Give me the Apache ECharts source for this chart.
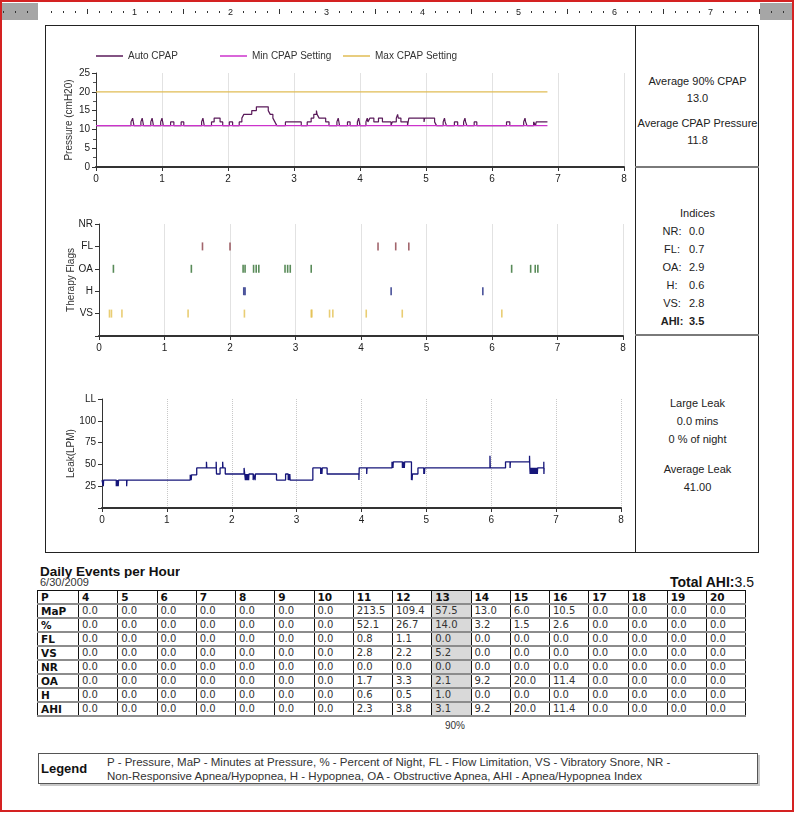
<!DOCTYPE html>
<html><head><meta charset="utf-8">
<script src="https://cdn.jsdelivr.net/npm/echarts@6/dist/echarts.min.js"></script>
<style>
html,body{margin:0;padding:0;background:#fff;}
body{width:795px;height:814px;position:relative;overflow:hidden;font-family:"Liberation Sans",Arial,sans-serif;color:#222;}
.abs{position:absolute;}
#frame{left:0;top:0;width:794px;height:812px;box-sizing:border-box;border:2px solid #d42222;}
#ruler{left:2px;top:3px;width:790px;height:17px;background:#fff;}
.rblk{top:3px;height:17px;background:#a6a6a6;}
.rt{background:#333;width:1px;}
.rn{font-size:9px;color:#222;width:10px;text-align:center;top:7px;}
#box{left:45px;top:25px;width:714px;height:528px;box-sizing:border-box;border:1px solid #222;}
#vdiv{left:635px;top:25px;width:1px;height:528px;background:#222;}
.hdiv{left:635px;width:124px;height:2px;background:#7a7a7a;}
.pt{font-size:11px;color:#222;width:123px;left:636px;text-align:center;line-height:13px;}
.il{font-size:11px;color:#222;line-height:13px;}
#chart{left:0;top:0;width:795px;height:560px;}
#title{left:40px;top:564px;height:14px;overflow:hidden;font-weight:bold;font-size:13.5px;line-height:16px;color:#111;}
#date{left:40px;top:576px;font-size:11px;color:#333;line-height:13px;}
#total{right:41px;top:574px;font-size:14px;line-height:16px;color:#111;}
table{position:absolute;left:37px;top:590px;border-collapse:collapse;table-layout:fixed;border:1px solid #111;}
td{height:12px;line-height:12px;padding:0 0 0 3px;border-left:1px solid #111;border-right:1px solid #111;border-bottom:2px solid #8c8c8c;font-family:"DejaVu Sans",Verdana,sans-serif;font-size:10px;color:#333;white-space:nowrap;overflow:hidden;}
td.h{font-weight:bold;color:#111;font-size:10.5px;}
td.g{background:#d9d9d9;}
#p90{left:435px;width:40px;text-align:center;top:720px;font-size:10px;color:#333;}
#legbox{left:38px;top:753px;width:720px;height:31px;box-sizing:border-box;border:1px solid #555;box-shadow:2px 2px 0 #c8c8c8;}
#legt{left:41px;top:761px;font-weight:bold;font-size:13px;color:#111;}
#legx{left:107px;top:755px;font-size:11.5px;line-height:14px;color:#333;white-space:nowrap;}
</style></head>
<body>
<div id="frame" class="abs"></div>
<div id="ruler" class="abs"></div>
<div id="box" class="abs"></div>
<div id="vdiv" class="abs"></div>
<div class="abs hdiv" style="top:166px"></div>
<div class="abs hdiv" style="top:334px"></div>
<div id="panel"></div>
<div id="chart" class="abs"></div>
<div id="title" class="abs">Daily Events per Hour</div>
<div id="date" class="abs">6/30/2009</div>
<div id="total" class="abs"><b>Total AHI:</b>3.5</div>
<table id="tbl"></table>
<div id="p90" class="abs">90%</div>
<div id="legbox" class="abs"></div>
<div id="legt" class="abs">Legend</div>
<div id="legx" class="abs">P - Pressure, MaP - Minutes at Pressure, % - Percent of Night, FL - Flow Limitation, VS - Vibratory Snore, NR -<br>Non-Responsive Apnea/Hypopnea, H - Hypopnea, OA - Obstructive Apnea, AHI - Apnea/Hypopnea Index</div>
<script>
// ---------- DATA ----------
const hourTicks = [0,1,2,3,4,5,6,7,8];
const autoCpap = [[0,11],
 [0.53,12],[0.555,13],[0.565,12],[0.575,11],
 [0.68,12],[0.70,13],[0.71,12],[0.72,11],
 [0.83,12],[0.85,13],[0.86,12],[0.87,11],
 [0.98,12],[1.00,13],[1.01,12],[1.02,11],
 [1.13,12],[1.18,11],
 [1.29,12],[1.33,11],
 [1.60,12],[1.62,13],[1.63,12],[1.64,11],
 [1.75,12],[1.79,13],[1.88,12],[1.92,11],
 [2.02,12],[2.07,11],
 [2.17,12],[2.21,13],[2.24,14],[2.36,15],[2.43,16],[2.61,15],[2.64,14],[2.68,13],[2.71,12],[2.74,11],
 [2.87,12],[3.11,11],
 [3.20,12],[3.26,13],[3.30,14],[3.34,15],[3.35,14],[3.38,13],[3.48,12],[3.53,11],
 [3.65,12],[3.67,13],[3.68,12],[3.69,11],
 [3.81,12],[3.85,11],
 [3.96,12],[3.98,13],[3.99,12],[4.00,11],
 [4.09,12],[4.11,13],[4.12,12],[4.15,13],[4.21,12],[4.28,13],[4.34,12],[4.47,11],[4.49,12],[4.55,13],[4.57,14],[4.58,13],[4.62,12],[4.72,11],[4.74,13],[4.97,12],[4.98,13],[5.13,12],[5.16,11],
 [5.26,12],[5.28,13],[5.29,12],[5.31,11],
 [5.43,12],[5.48,11],
 [5.57,12],[5.59,13],[5.60,12],[5.62,11],
 [5.73,12],[5.77,11],
 [6.22,12],[6.27,11],
 [6.48,12],[6.50,13],[6.51,12],[6.53,11],
 [6.63,12],[6.66,11],[6.67,12],[6.84,12]];
const minCpap = [[0,11],[6.84,11]];
const maxCpap = [[0,20],[6.84,20]];

const flagRows = ['', 'VS', 'H', 'OA', 'FL', 'NR'];
const flFlags = [1.58, 2.00, 4.26, 4.53, 4.73];
const oaFlags = [0.22, 1.41, 2.20, 2.23, 2.36, 2.40, 2.44, 2.84, 2.88, 2.92, 3.24, 6.30, 6.59, 6.66, 6.70];
const hFlags  = [2.21, 2.23, 4.46, 5.86];
const vsFlags = [0.16, 0.19, 0.35, 1.36, 2.22, 3.24, 3.25, 3.52, 3.57, 4.08, 4.63, 6.15];
const nrFlags = [];

const leakTicks = ['', '25', '50', '75', '100', 'LL'];
const leak = [[0,32],[0.02,25],[0.025,32],
 [0.22,25],[0.225,32],[0.23,25],[0.235,32],[0.24,25],[0.245,32],[0.25,25],[0.255,32],
 [0.38,25],[0.385,32],
 [1.36,38],[1.365,32],[1.37,38],[1.375,32],[1.38,38],[1.46,46],
 [1.61,53],[1.615,46],
 [1.76,53],[1.765,39],[1.82,46],[1.86,53],[1.865,46],[1.90,39],
 [2.19,46],[2.20,39],[2.21,32],[2.215,39],[2.22,32],[2.225,39],[2.23,32],[2.235,39],[2.24,32],[2.245,39],[2.25,32],[2.255,39],[2.26,32],[2.265,39],[2.33,32],[2.335,39],[2.36,32],[2.365,39],
 [2.69,32],[2.83,39],[2.87,32],[2.875,39],[2.88,32],[2.885,39],[2.89,32],[2.895,39],[2.90,32],
 [3.25,46],[3.37,39],[3.375,46],[3.38,39],[3.385,46],[3.39,39],[3.395,46],[3.47,39],
 [3.96,32],[3.965,46],[4.08,39],[4.085,46],
 [4.47,53],[4.475,46],[4.48,53],[4.485,46],[4.49,53],
 [4.63,46],[4.635,53],[4.64,46],[4.645,53],[4.65,46],[4.655,53],[4.66,46],[4.665,53],
 [4.77,32],[4.775,39],[4.78,32],[4.785,39],[4.87,46],
 [4.96,39],[4.965,46],[4.97,39],[4.975,46],
 [5.98,60],[5.985,46],
 [6.22,53],[6.29,46],[6.295,53],
 [6.59,60],[6.595,46],[6.60,39],[6.605,46],[6.61,39],[6.615,46],[6.62,39],[6.625,46],[6.63,39],[6.635,46],[6.64,39],[6.645,46],[6.65,39],[6.655,46],[6.66,39],[6.665,46],[6.67,39],[6.675,46],[6.68,39],[6.685,46],[6.69,39],[6.695,46],[6.70,39],[6.705,46],[6.71,39],[6.715,46],
 [6.81,53],[6.812,39],[6.815,46],[6.82,46]];

const panelTop = [['Average 90% CPAP',75],['13.0',92],['Average CPAP Pressure',117],['11.8',134]];
const indexRows = [['NR:','0.0'],['FL:','0.7'],['OA:','2.9'],['H:','0.6'],['VS:','2.8'],['AHI:','3.5']];
const panelBottom = [['Large Leak',397],['0.0 mins',415],['0 % of night',433],['Average Leak',463],['41.00',481]];

const pressureCols = ['4','5','6','7','8','9','10','11','12','13','14','15','16','17','18','19','20'];
const tableRows = [
 ['MaP', ['0.0','0.0','0.0','0.0','0.0','0.0','0.0','213.5','109.4','57.5','13.0','6.0','10.5','0.0','0.0','0.0','0.0']],
 ['%',   ['0.0','0.0','0.0','0.0','0.0','0.0','0.0','52.1','26.7','14.0','3.2','1.5','2.6','0.0','0.0','0.0','0.0']],
 ['FL',  ['0.0','0.0','0.0','0.0','0.0','0.0','0.0','0.8','1.1','0.0','0.0','0.0','0.0','0.0','0.0','0.0','0.0']],
 ['VS',  ['0.0','0.0','0.0','0.0','0.0','0.0','0.0','2.8','2.2','5.2','0.0','0.0','0.0','0.0','0.0','0.0','0.0']],
 ['NR',  ['0.0','0.0','0.0','0.0','0.0','0.0','0.0','0.0','0.0','0.0','0.0','0.0','0.0','0.0','0.0','0.0','0.0']],
 ['OA',  ['0.0','0.0','0.0','0.0','0.0','0.0','0.0','1.7','3.3','2.1','9.2','20.0','11.4','0.0','0.0','0.0','0.0']],
 ['H',   ['0.0','0.0','0.0','0.0','0.0','0.0','0.0','0.6','0.5','1.0','0.0','0.0','0.0','0.0','0.0','0.0','0.0']],
 ['AHI', ['0.0','0.0','0.0','0.0','0.0','0.0','0.0','2.3','3.8','3.1','9.2','20.0','11.4','0.0','0.0','0.0','0.0']]
];
const highlightCol = '13';

// ---------- RULER ----------
(function(){
  const b = document.body;
  function add(cls, st, txt){const d=document.createElement('div');d.className='abs '+cls;d.setAttribute('style',st);if(txt)d.textContent=txt;b.appendChild(d);}
  add('rblk','left:2px;width:36px;');
  add('rblk','left:760px;width:32px;');
  for(let k=-3;k<=66;k++){
    const x = 38.5 + 12*k;
    if(x<2||x>791) continue;
    if(k%8===0 && k>0 && k<64){ add('rn','left:'+(x-5)+'px;', String(k/8)); }
    else if(k%8===0){ }
    else if(k%4===0){ add('rt','left:'+Math.round(x)+'px;top:9px;height:5px;'); }
    else { add('rt','left:'+Math.round(x)+'px;top:11px;height:2px;'); }
  }
})();

// ---------- PANEL ----------
(function(){
  const p = document.getElementById('panel');
  let h='';
  panelTop.forEach(r=>{h+='<div class="abs pt" style="top:'+r[1]+'px">'+r[0]+'</div>';});
  h+='<div class="abs pt" style="top:207px">Indices</div>';
  indexRows.forEach((r,i)=>{
    const y=225+18*i; const bold = r[0]==='AHI:'?'font-weight:bold;':'';
    h+='<div class="abs il" style="left:652px;width:40px;text-align:center;top:'+y+'px;'+bold+'">'+r[0]+'</div>';
    h+='<div class="abs il" style="left:689px;top:'+y+'px;'+bold+'">'+r[1]+'</div>';
  });
  panelBottom.forEach(r=>{h+='<div class="abs pt" style="top:'+r[1]+'px">'+r[0]+'</div>';});
  p.innerHTML=h;
})();

// ---------- TABLE ----------
(function(){
  const t=document.getElementById('tbl');
  let h='<colgroup><col style="width:41px">';
  pressureCols.forEach(()=>{h+='<col style="width:39.25px">';});
  h+='</colgroup><tr><td class="h">P</td>';
  pressureCols.forEach(c=>{h+='<td class="h'+(c===highlightCol?' g':'')+'">'+c+'</td>';});
  h+='</tr>';
  tableRows.forEach(r=>{
    h+='<tr><td class="h">'+r[0]+'</td>';
    r[1].forEach((v,i)=>{h+='<td'+(pressureCols[i]===highlightCol?' class="g"':'')+'>'+v+'</td>';});
    h+='</tr>';
  });
  t.innerHTML=h;
})();

// ---------- CHART ----------
const chart = echarts.init(document.getElementById('chart'), null, {renderer:'canvas'});
const FONT = 'Liberation Sans';
function xAx(grid, dotted){
  return {type:'value', gridIndex:grid, min:0, max:8, interval:1,
    axisLine:{show:true, onZero:false, lineStyle:{color:'#333', width:2}},
    axisTick:{show:true, length:4, lineStyle:{color:'#333'}},
    axisLabel:{color:'#222', fontSize:10, fontFamily:FONT, margin:7},
    splitLine:{show:true, lineStyle:{color: dotted?'#c8c8c8':'#e2e2e2', type: dotted?'dotted':'solid'}}};
}
function flagSeries(name, arr, row, color){
  return {name:name, type:'scatter', xAxisIndex:1, yAxisIndex:1, symbol:'rect', symbolSize:[1.6,8],
    itemStyle:{color:color}, data: arr.map(t=>[t,row]), silent:true};
}
const legCommon = {top:51, itemWidth:27, itemHeight:1.5, icon:'rect', textStyle:{fontSize:10, fontFamily:FONT, color:'#333'}, padding:0};
const nameStyle = {fontSize:10, fontFamily:FONT, color:'#333'};
chart.setOption({
  animation:false,
  legend:[
    Object.assign({left:96, data:['Auto CPAP']}, legCommon),
    Object.assign({left:220, data:['Min CPAP Setting']}, legCommon),
    Object.assign({left:343, data:['Max CPAP Setting']}, legCommon)
  ],
  grid:[
    {left:96, top:73, width:528, height:94},
    {left:99, top:224, width:524, height:112},
    {left:102, top:399, width:519, height:109}
  ],
  xAxis:[xAx(0,false), xAx(1,false), xAx(2,true)],
  yAxis:[
    {type:'value', gridIndex:0, min:0, max:25, interval:5,
     name:'Pressure (cmH20)', nameLocation:'middle', nameGap:22, nameMoveOverlap:false, nameTextStyle:nameStyle,
     axisLine:{show:true, lineStyle:{color:'#333'}}, axisTick:{show:true, length:4, lineStyle:{color:'#333'}},
     minorTick:{show:true, splitNumber:2, length:3, lineStyle:{color:'#555'}},
     axisLabel:{color:'#222', fontSize:10, fontFamily:FONT, margin:6}, splitLine:{show:false}},
    {type:'value', gridIndex:1, min:0, max:5, interval:1,
     name:'Therapy Flags', nameLocation:'middle', nameGap:23, nameMoveOverlap:false, nameTextStyle:nameStyle,
     axisLine:{show:true, lineStyle:{color:'#333'}}, axisTick:{show:true, length:4, lineStyle:{color:'#333'}},
     axisLabel:{color:'#222', fontSize:10, fontFamily:FONT, margin:6, formatter:v=>flagRows[v]}, splitLine:{show:false}},
    {type:'value', gridIndex:2, min:0, max:125, interval:25,
     name:'Leak(LPM)', nameLocation:'middle', nameGap:26, nameMoveOverlap:false, nameTextStyle:nameStyle,
     axisLine:{show:true, lineStyle:{color:'#333'}}, axisTick:{show:true, length:4, lineStyle:{color:'#333'}},
     axisLabel:{color:'#222', fontSize:10, fontFamily:FONT, margin:6, formatter:v=>leakTicks[Math.round(v/25)]}, splitLine:{show:false}}
  ],
  series:[
    {name:'Auto CPAP', type:'line', xAxisIndex:0, yAxisIndex:0, step:'end', symbol:'none', color:'#5a1a5a', lineStyle:{width:1.2, color:'#5a1a5a'}, data:autoCpap},
    {name:'Min CPAP Setting', type:'line', xAxisIndex:0, yAxisIndex:0, symbol:'none', color:'#cc33cc', lineStyle:{width:1.2, color:'#cc33cc'}, data:minCpap},
    {name:'Max CPAP Setting', type:'line', xAxisIndex:0, yAxisIndex:0, symbol:'none', color:'#e0bc55', lineStyle:{width:1.2, color:'#e0bc55'}, data:maxCpap},
    flagSeries('FL', flFlags, 4, '#8b3f47'),
    flagSeries('OA', oaFlags, 3, '#2f6e2f'),
    flagSeries('H', hFlags, 2, '#1c2580'),
    flagSeries('VS', vsFlags, 1, '#e3c150'),
    flagSeries('NR', nrFlags, 5, '#555'),
    {name:'Leak', type:'line', xAxisIndex:2, yAxisIndex:2, step:'end', symbol:'none', lineStyle:{width:1.3, color:'#16167a'}, data:leak}
  ]
});
</script>
</body></html>
